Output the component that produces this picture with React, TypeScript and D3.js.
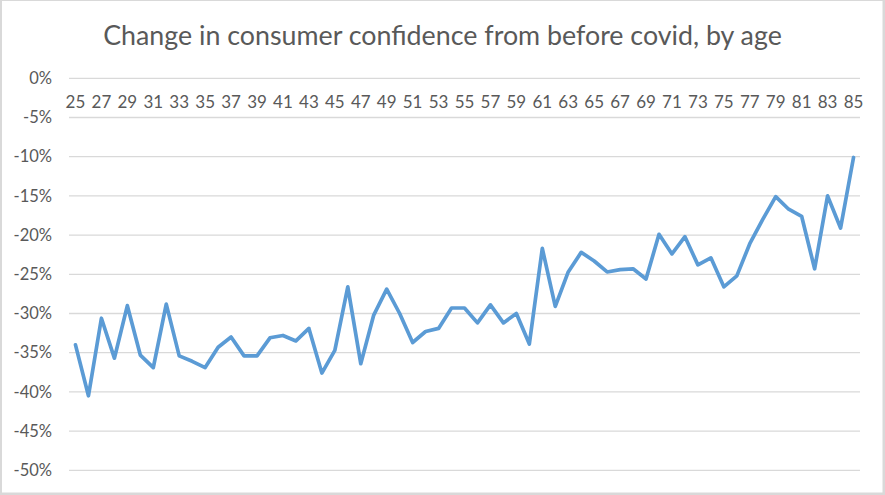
import React from "react";
import * as d3 from "d3";

const title = "Change in consumer confidence from before covid, by age";
const ages: number[] = d3.range(25, 86);
const changePct: number[] = [
  -34.0, -40.5, -30.6, -35.7, -29.0, -35.3, -36.9, -28.8, -35.4, -36.1,
  -36.9, -34.3, -33.0, -35.4, -35.4, -33.1, -32.8, -33.5, -31.9, -37.6,
  -34.7, -26.6, -36.4, -30.2, -26.9, -30.0, -33.7, -32.3, -31.9, -29.3,
  -29.3, -31.2, -28.9, -31.2, -30.0, -33.9, -21.7, -29.1, -24.7, -22.2,
  -23.3, -24.7, -24.4, -24.3, -25.6, -19.9, -22.4, -20.2, -23.8, -22.9,
  -26.6, -25.2, -21.1, -18.0, -15.1, -16.7, -17.6, -24.3, -15.0, -19.1,
  -10.1,
];
const yTicks: number[] = [0, -5, -10, -15, -20, -25, -30, -35, -40, -45, -50];
const xTickLabels: number[] = ages.filter((a) => (a - 25) % 2 === 0);

const W = 885;
const H = 495;
const plot = { left: 69, right: 860, top: 78.3, bottom: 470.3 };
const FONT = "Lato, 'Open Sans', sans-serif";
const TEXT = "#595959";
const GRID = "#d9d9d9";

export default function App() {
  const x = d3
    .scaleBand<number>()
    .domain(ages)
    .range([plot.left, plot.right])
    .paddingInner(0)
    .paddingOuter(0);
  const y = d3.scaleLinear().domain([-50, 0]).range([plot.bottom, plot.top]);
  const cx = (a: number) => (x(a) as number) + x.bandwidth() / 2;

  const line = d3
    .line<number>()
    .x((_, i) => cx(ages[i]))
    .y((d) => y(d));

  return (
    <svg
      width={W}
      height={H}
      style={{ position: "absolute", left: 0, top: 0, display: "block" }}
    >
      <rect x={0} y={0} width={W} height={H} fill={GRID} />
      <rect x={2} y={1} width={880.5} height={491.5} fill="#ffffff" />
      <text
        x={442.5}
        y={45}
        textAnchor="middle"
        fontFamily={FONT}
        fontSize={26.8}
        fontWeight={400}
        fill={TEXT}
      >
        {title}
      </text>
      {yTicks.map((t) => (
        <g key={t}>
          <line
            x1={plot.left}
            x2={plot.right}
            y1={y(t)}
            y2={y(t)}
            stroke={GRID}
            strokeWidth={1.3}
          />
          <text
            x={52}
            y={y(t)}
            dy="0.35em"
            textAnchor="end"
            fontFamily={FONT}
            fontSize={16.5}
            fill={TEXT}
          >
            {`${t}%`}
          </text>
        </g>
      ))}
      {xTickLabels.map((a) => (
        <text
          key={a}
          x={cx(a)}
          y={102.5}
          dy="0.35em"
          textAnchor="middle"
          fontFamily={FONT}
          fontSize={17}
          fill={TEXT}
        >
          {a}
        </text>
      ))}
      <path
        d={line(changePct) || ""}
        fill="none"
        stroke="#5b9bd5"
        strokeWidth={3.7}
        strokeLinejoin="round"
        strokeLinecap="round"
      />
    </svg>
  );
}
